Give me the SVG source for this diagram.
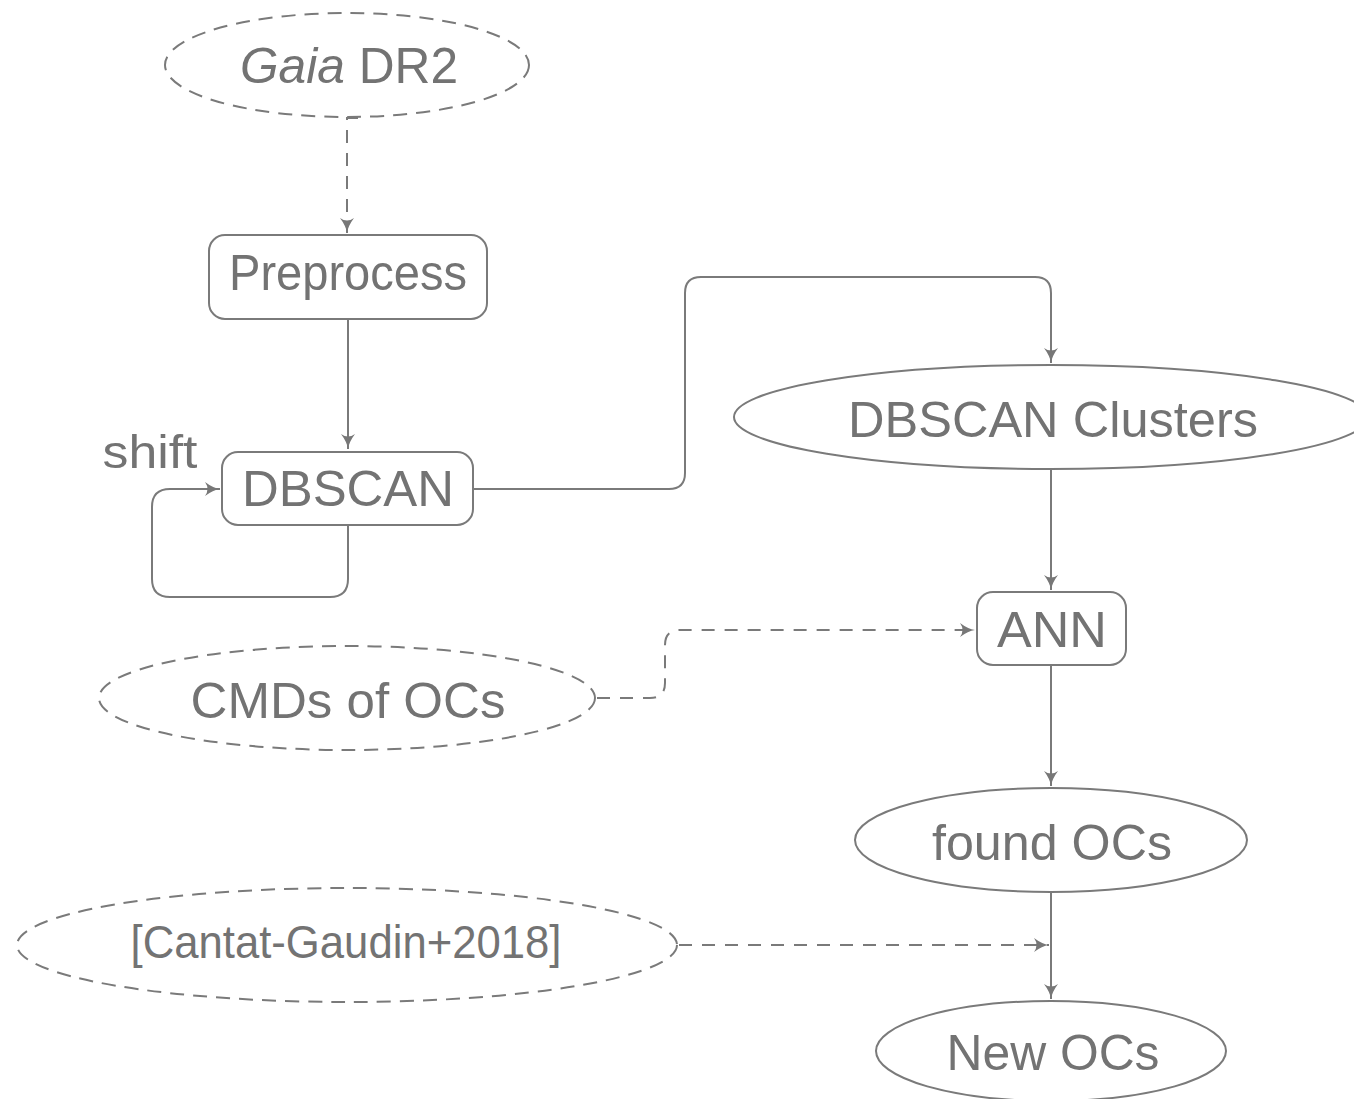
<svg xmlns="http://www.w3.org/2000/svg" width="1354" height="1099" viewBox="0 0 1354 1099">
  <defs>
    <marker id="arrow" markerUnits="userSpaceOnUse" markerWidth="18" markerHeight="16" viewBox="-16 -8 18 16" refX="0" refY="0" orient="auto">
      <path d="M -15 -7 Q -7 -1 0 0 Q -7 1 -15 7 Q -10 0 -15 -7 Z" fill="#777"/>
    </marker>
    <style>
      .node { fill: #fff; stroke: #7a7a7a; stroke-width: 2; }
      .dashed { stroke-dasharray: 14 9; }
      .edge { fill: none; stroke: #7a7a7a; stroke-width: 2; }
      .edge-dash { stroke-dasharray: 13 10; }
      .label { font-family: "Liberation Sans", Arial, sans-serif; fill: #737373; text-anchor: middle; }
    </style>
  </defs>

  <rect width="1354" height="1099" fill="#fff"/>

  <!-- connectors -->
  <g id="connectors">
    <path class="edge edge-dash" d="M 358 118 L 347 118 L 347 233" marker-end="url(#arrow)"/>
    <path class="edge" d="M 348 319 L 348 449" marker-end="url(#arrow)"/>
    <path class="edge" d="M 348 525 L 348 579 Q 348 597 330 597 L 170 597 Q 152 597 152 579 L 152 507 Q 152 489 170 489 L 220 489" marker-end="url(#arrow)"/>
    <path class="edge" d="M 473 489 L 669 489 Q 685 489 685 473 L 685 293 Q 685 277 701 277 L 1035 277 Q 1051 277 1051 293 L 1051 363" marker-end="url(#arrow)"/>
    <path class="edge" d="M 1051 469 L 1051 590" marker-end="url(#arrow)"/>
    <path class="edge edge-dash" d="M 597 698 L 650 698 Q 665 698 665 683 L 665 645 Q 665 630 680 630 L 975 630" marker-end="url(#arrow)"/>
    <path class="edge" d="M 1051 665 L 1051 786" marker-end="url(#arrow)"/>
    <path class="edge" d="M 1051 892 L 1051 999" marker-end="url(#arrow)"/>
    <path class="edge edge-dash" d="M 679 945 L 1049 945" marker-end="url(#arrow)"/>
  </g>

  <g id="gaia">
    <ellipse class="node dashed" cx="347" cy="65" rx="182" ry="52"/>
    <text class="label" x="349" y="83" font-size="50" textLength="218" lengthAdjust="spacingAndGlyphs"><tspan font-style="italic">Gaia</tspan> DR2</text>
  </g>

  <g id="preprocess">
    <rect class="node" x="209" y="235" width="278" height="84" rx="16"/>
    <text class="label" x="348" y="290" font-size="50" textLength="238" lengthAdjust="spacingAndGlyphs">Preprocess</text>
  </g>

  <g id="dbscan">
    <rect class="node" x="222" y="452" width="251" height="73" rx="16"/>
    <text class="label" x="348" y="506" font-size="50" textLength="212" lengthAdjust="spacingAndGlyphs">DBSCAN</text>
  </g>

  <text id="shift" class="label" x="150" y="468" font-size="46" textLength="95" lengthAdjust="spacingAndGlyphs">shift</text>

  <g id="clusters">
    <ellipse class="node" cx="1051" cy="417" rx="317" ry="52"/>
    <text class="label" x="1053" y="437" font-size="50" textLength="410" lengthAdjust="spacingAndGlyphs">DBSCAN Clusters</text>
  </g>

  <g id="ann">
    <rect class="node" x="977" y="592" width="149" height="73" rx="16"/>
    <text class="label" x="1052" y="647" font-size="50" textLength="110" lengthAdjust="spacingAndGlyphs">ANN</text>
  </g>

  <g id="cmds">
    <ellipse class="node dashed" cx="347" cy="698" rx="248" ry="52"/>
    <text class="label" x="348" y="718" font-size="50" textLength="315" lengthAdjust="spacingAndGlyphs">CMDs of OCs</text>
  </g>

  <g id="found">
    <ellipse class="node" cx="1051" cy="840" rx="196" ry="52"/>
    <text class="label" x="1052" y="860" font-size="50" textLength="240" lengthAdjust="spacingAndGlyphs">found OCs</text>
  </g>

  <g id="cantat">
    <ellipse class="node dashed" cx="347" cy="945" rx="330" ry="57"/>
    <text class="label" x="346" y="958" font-size="46" textLength="431" lengthAdjust="spacingAndGlyphs">[Cantat-Gaudin+2018]</text>
  </g>

  <g id="new">
    <ellipse class="node" cx="1051" cy="1051" rx="175" ry="50"/>
    <text class="label" x="1053" y="1070" font-size="50" textLength="213" lengthAdjust="spacingAndGlyphs">New OCs</text>
  </g>
</svg>
